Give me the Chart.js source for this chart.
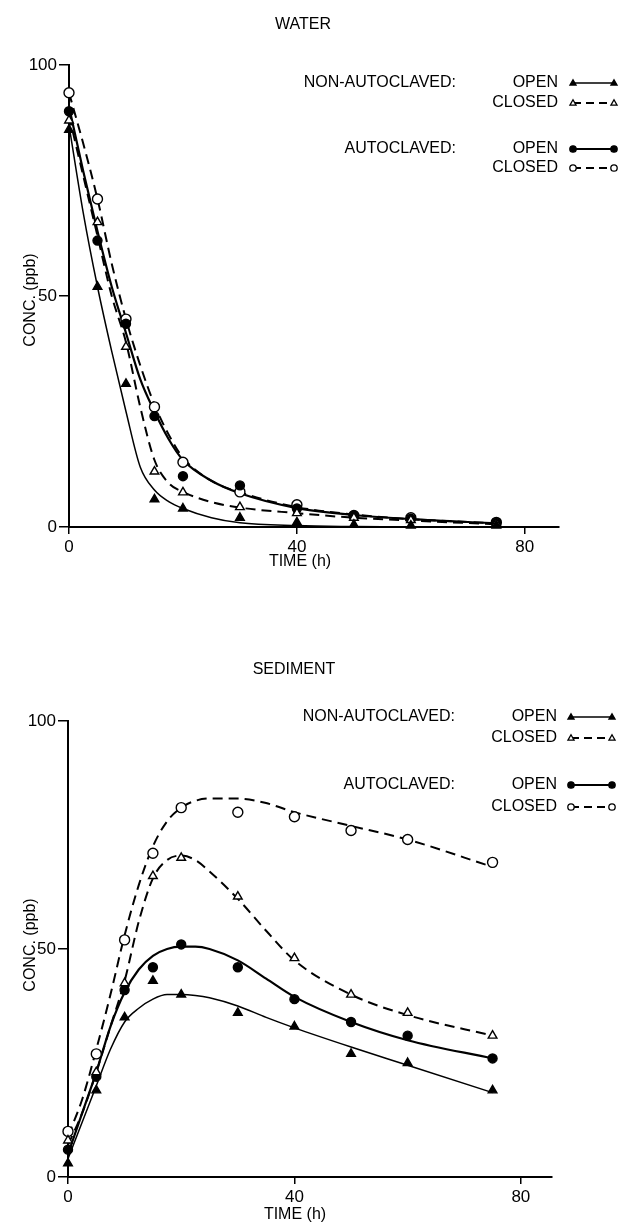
<!DOCTYPE html>
<html>
<head>
<meta charset="utf-8">
<script src="https://cdn.jsdelivr.net/npm/chart.js@4.4.1/dist/chart.umd.min.js"></script>
<style>
    html, body { margin: 0; padding: 0; background: #fff; }
    #wrap { position: relative; width: 623px; height: 1229px; }
    canvas { position: absolute; left: 0; }
    #waterChart { top: 0; }
    #sedChart { top: 600px; }
</style>
</head>
<body>
<div id="wrap">
    <canvas id="waterChart" width="623" height="600"></canvas>
    <canvas id="sedChart" width="623" height="629"></canvas>
</div>
<script>
/*
    data
*/
var sampleTimes = [0, 5, 10, 15, 20, 30, 40, 50, 60, 75];
var xTicks = [0, 40, 80];
var yTicks = [0, 50, 100];

// WATER - measured points
var waterNonAutoOpen   = [86, 52, 31, 6, 4, 2, 1, 0.5, 0.3, 0.3];
var waterNonAutoClosed = [88, 66, 39, 12, 7.5, 4.3, 3, 2, 1.5, 0.8];
var waterAutoOpen      = [90, 62, 44, 24, 11, 9, 4, 2.5, 1.8, 1];
var waterAutoClosed    = [94, 71, 45, 26, 14, 7.6, 4.8, 2.5, 2, 1];

// WATER - drawn curves, read at these times
var waterCurveTimes       = [0, 2.5, 5, 7.5, 10, 12.5, 15, 17.5, 20, 25, 30, 40, 50, 60, 75];
var waterNonAutoOpenFit   = [87, 68, 52, 38, 25, 13, 8, 5.5, 4, 2, 0.9, 0.3, 0.1, 0, 0];
var waterNonAutoClosedFit = [89, 76, 63, 50, 40, 26, 14.5, 9.5, 7.6, 5.4, 4.2, 3, 2, 1.4, 0.6];
var waterAutoOpenFit      = [91, 77, 64, 52, 42, 32, 25, 19, 14.5, 10, 7.3, 4.1, 2.6, 1.7, 0.8];
var waterAutoClosedFit    = [94, 83, 71, 57, 45, 35, 26.5, 20, 15, 10, 7.5, 4.3, 2.7, 1.7, 0.8];

// SEDIMENT - measured points
var sedNonAutoOpen   = [3, 19, 35, 43, 40, 36, 33, 27, 25, 19];
var sedNonAutoClosed = [8, 23, 42.5, 66, 70, 61.5, 48, 40, 36, 31];
var sedAutoOpen      = [6, 22, 41, 46, 51, 46, 39, 34, 31, 26];
var sedAutoClosed    = [10, 27, 52, 71, 81, 80, 79, 76, 74, 69];

// SEDIMENT - drawn curves
var sedCurveTimes       = [0, 2.5, 5, 7.5, 10, 12.5, 15, 17.5, 20, 22.5, 25, 30, 35, 40, 50, 60, 75];
var sedNonAutoOpenFit   = [4, 12, 20, 28, 34, 37, 39, 40, 40, 39.8, 39.3, 37.5, 35, 32.7, 28.5, 24.5, 18.5];
var sedNonAutoClosedFit = [7, 14, 23, 33, 43, 56, 65.5, 69.5, 70.5, 69.5, 67, 61, 54, 47.5, 40, 35.5, 31];
var sedAutoOpenFit      = [5, 14, 23, 33, 40.5, 45.5, 48.5, 50, 50.5, 50.5, 50, 47.5, 43.5, 39.5, 34, 30, 26];
var sedAutoClosedFit    = [9, 17, 28, 40, 53, 64, 72.5, 78, 81, 82.5, 83, 83, 82, 80, 77, 74, 68];

var legendGroups = ['NON-AUTOCLAVED:', '', 'AUTOCLAVED:', ''];
var legendLabels = ['OPEN', 'CLOSED', 'OPEN', 'CLOSED'];

var FONT = '"Liberation Sans", Arial, Helvetica, sans-serif';

// marker / line look for the 4 series: non-auto open, non-auto closed, auto open, auto closed
var seriesStyle = [
    { point: 'triangle', fill: '#000', radius: 5,   dash: [],      width: 1.5 },
    { point: 'triangle', fill: '#fff', radius: 5,   dash: [10, 6], width: 2 },
    { point: 'circle',   fill: '#000', radius: 4.5, dash: [],      width: 2.2 },
    { point: 'circle',   fill: '#fff', radius: 5,   dash: [10, 6], width: 2 },
];

function toXY(times, vals){
    var out = [];
    for(var i = 0; i < times.length; i++){
        out.push({x: times[i], y: vals[i]});
    }
    return out;
}

function drawMarker(ctx, kind, fill, x, y, r){
    ctx.save();
    ctx.beginPath();
    if(kind === 'circle'){
        ctx.arc(x, y, r, 0, Math.PI * 2);
    } else {
        ctx.moveTo(x, y - r);
        ctx.lineTo(x + r * 0.95, y + r * 0.65);
        ctx.lineTo(x - r * 0.95, y + r * 0.65);
        ctx.closePath();
    }
    ctx.fillStyle = fill;
    ctx.fill();
    ctx.lineWidth = 1.3;
    ctx.strokeStyle = '#000';
    ctx.stroke();
    ctx.restore();
}

// titles, axis names and the in-plot key
var paperText = {
    id: 'paperText',
    afterDraw: function(chart, args, o){
        var ctx = chart.ctx;
        ctx.save();
        ctx.fillStyle = '#000';
        ctx.textBaseline = 'middle';
        ctx.font = '16px ' + FONT;

        ctx.textAlign = 'center';
        ctx.fillText(o.title, o.titleX, o.titleY);
        ctx.fillText('TIME (h)', o.xTitleX, o.xTitleY);

        ctx.save();
        ctx.translate(o.yTitleX, o.yTitleY);
        ctx.rotate(-Math.PI / 2);
        ctx.fillText('CONC. (ppb)', 0, 0);
        ctx.restore();

        for(var i = 0; i < legendLabels.length; i++){
            var y = o.rows[i];
            ctx.textAlign = 'right';
            if(legendGroups[i]) ctx.fillText(legendGroups[i], o.groupRight, y);
            ctx.fillText(legendLabels[i], o.labelRight, y);

            var s = seriesStyle[i];
            ctx.save();
            ctx.beginPath();
            ctx.setLineDash(s.dash.length ? [8, 5] : []);
            ctx.lineWidth = s.width;
            ctx.strokeStyle = '#000';
            ctx.moveTo(o.keyStart, y);
            ctx.lineTo(o.keyEnd, y);
            ctx.stroke();
            ctx.restore();
            drawMarker(ctx, s.point, s.fill, o.keyStart, y, 3.2);
            drawMarker(ctx, s.point, s.fill, o.keyEnd, y, 3.2);
        }
        ctx.restore();
    }
};

function drawPanel(chartID, points, curveTimes, curves, layoutOpts, textOpts){

    var datasets = [];
    for(var i = 0; i < 4; i++){
        var s = seriesStyle[i];
        datasets.push({
            data: toXY(sampleTimes, points[i]),
            showLine: false,
            pointStyle: s.point,
            pointRadius: s.radius,
            pointBackgroundColor: s.fill,
            pointBorderColor: '#000',
            pointBorderWidth: 1.4,
            order: 0,
        });
        datasets.push({
            data: toXY(curveTimes, curves[i]),
            borderColor: '#000',
            borderWidth: s.width,
            borderDash: s.dash,
            pointRadius: 0,
            cubicInterpolationMode: 'monotone',
            order: 1,
        });
    }

    var ctx = document.getElementById(chartID);

    var config = {
        type: 'line',
        data: { datasets: datasets },
        options: {
            responsive: false,
            animation: false,
            clip: false,
            events: [],
            layout: {
                padding: {
                    top: layoutOpts.top,
                    right: layoutOpts.right,
                    left: 0,
                    bottom: 0,
                }
            },
            plugins: {
                legend: { display: false },
                tooltip: { enabled: false },
                paperText: textOpts,
            },
            scales: {
                x: {
                    type: 'linear',
                    min: 0,
                    max: layoutOpts.xMax,
                    afterBuildTicks: function(scale){
                        scale.ticks = xTicks.map((v) => ({ value: v }));
                    },
                    afterFit: function(scale){
                        scale.height = layoutOpts.bottomHeight;
                    },
                    border: { color: '#000', width: 2 },
                    grid: {
                        drawOnChartArea: false,
                        color: '#000',
                        lineWidth: 1.5,
                        tickLength: 7,
                    },
                    ticks: {
                        color: '#000',
                        padding: 3,
                        maxRotation: 0,
                        font: { family: FONT, size: 17 },
                    }
                },
                y: {
                    type: 'linear',
                    min: 0,
                    max: 100,
                    afterBuildTicks: function(scale){
                        scale.ticks = yTicks.map((v) => ({ value: v }));
                    },
                    afterFit: function(scale){
                        scale.width = layoutOpts.leftWidth;
                    },
                    border: { color: '#000', width: 2 },
                    grid: {
                        drawOnChartArea: false,
                        color: '#000',
                        lineWidth: 1.5,
                        tickLength: 10,
                    },
                    ticks: {
                        color: '#000',
                        padding: 2,
                        font: { family: FONT, size: 17 },
                    }
                },
            }
        },
        plugins: [paperText],
    };
    return new Chart(ctx, config);
}

drawPanel('waterChart',
    [waterNonAutoOpen, waterNonAutoClosed, waterAutoOpen, waterAutoClosed],
    waterCurveTimes,
    [waterNonAutoOpenFit, waterNonAutoClosedFit, waterAutoOpenFit, waterAutoClosedFit],
    { top: 65, right: 64, leftWidth: 69, bottomHeight: 73, xMax: 86 },
    {
        title: 'WATER', titleX: 303, titleY: 25,
        xTitleX: 300, xTitleY: 562,
        yTitleX: 31, yTitleY: 300,
        rows: [83, 103, 149, 168],
        groupRight: 456, labelRight: 558,
        keyStart: 573, keyEnd: 614,
    });

drawPanel('sedChart',
    [sedNonAutoOpen, sedNonAutoClosed, sedAutoOpen, sedAutoClosed],
    sedCurveTimes,
    [sedNonAutoOpenFit, sedNonAutoClosedFit, sedAutoOpenFit, sedAutoClosedFit],
    { top: 121, right: 71, leftWidth: 68, bottomHeight: 52, xMax: 85.5 },
    {
        title: 'SEDIMENT', titleX: 294, titleY: 70,
        xTitleX: 295, xTitleY: 615,
        yTitleX: 31, yTitleY: 345,
        rows: [117, 138, 185, 207],
        groupRight: 455, labelRight: 557,
        keyStart: 571, keyEnd: 612,
    });
</script>
</body>
</html>
